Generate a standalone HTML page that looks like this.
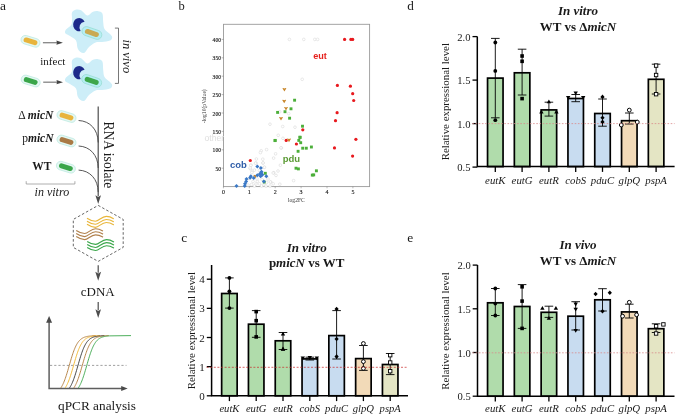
<!DOCTYPE html>
<html><head><meta charset="utf-8"><style>
html,body{margin:0;padding:0;background:#fff;}
body{width:685px;height:416px;overflow:hidden;font-family:"Liberation Serif",serif;}
svg{display:block;will-change:transform;}
</style></head><body>
<svg width="685" height="416" viewBox="0 0 685 416">
<rect width="685" height="416" fill="#fff"/>
<text x="0.1" y="9.8" font-size="13.5" text-anchor="start" font-weight="normal" font-style="normal" fill="#1a1a1a" font-family="Liberation Serif" >a</text>
<path d="M72.00,12.50 C72.58,11.13 74.00,10.17 75.50,9.80 C77.00,9.43 79.02,9.35 81.00,10.30 C82.98,11.25 85.40,15.25 87.40,15.50 C89.40,15.75 91.20,12.52 93.00,11.80 C94.80,11.08 96.63,10.92 98.20,11.20 C99.77,11.48 101.57,11.70 102.40,13.50 C103.23,15.30 102.85,19.42 103.20,22.00 C103.55,24.58 103.37,27.00 104.50,29.00 C105.63,31.00 108.72,32.63 110.00,34.00 C111.28,35.37 112.20,36.10 112.20,37.20 C112.20,38.30 111.70,39.80 110.00,40.60 C108.30,41.40 104.40,41.68 102.00,42.00 C99.60,42.32 97.77,41.67 95.60,42.50 C93.43,43.33 90.85,45.30 89.00,47.00 C87.15,48.70 85.92,51.87 84.50,52.70 C83.08,53.53 81.67,52.78 80.50,52.00 C79.33,51.22 78.25,49.92 77.50,48.00 C76.75,46.08 77.25,42.50 76.00,40.50 C74.75,38.50 71.78,37.22 70.00,36.00 C68.22,34.78 65.97,34.28 65.30,33.20 C64.63,32.12 64.97,30.95 66.00,29.50 C67.03,28.05 70.50,26.42 71.50,24.50 C72.50,22.58 71.92,20.00 72.00,18.00 C72.08,16.00 71.42,13.87 72.00,12.50 Z" fill="#cdeef8"/>
<path d="M80.64,31.11 A6.1,6.6 0 1 1 84.61,21.64 A5.9,5.9 0 0 0 80.64,31.11 Z" fill="#1d2a8a"/>
<path d="M72.00,60.50 C72.58,59.13 74.00,58.17 75.50,57.80 C77.00,57.43 79.02,57.35 81.00,58.30 C82.98,59.25 85.40,63.25 87.40,63.50 C89.40,63.75 91.20,60.52 93.00,59.80 C94.80,59.08 96.63,58.92 98.20,59.20 C99.77,59.48 101.57,59.70 102.40,61.50 C103.23,63.30 102.85,67.42 103.20,70.00 C103.55,72.58 103.37,75.00 104.50,77.00 C105.63,79.00 108.72,80.63 110.00,82.00 C111.28,83.37 112.20,84.10 112.20,85.20 C112.20,86.30 111.70,87.80 110.00,88.60 C108.30,89.40 104.40,89.68 102.00,90.00 C99.60,90.32 97.77,89.67 95.60,90.50 C93.43,91.33 90.85,93.30 89.00,95.00 C87.15,96.70 85.92,99.87 84.50,100.70 C83.08,101.53 81.67,100.78 80.50,100.00 C79.33,99.22 78.25,97.92 77.50,96.00 C76.75,94.08 77.25,90.50 76.00,88.50 C74.75,86.50 71.78,85.22 70.00,84.00 C68.22,82.78 65.97,82.28 65.30,81.20 C64.63,80.12 64.97,78.95 66.00,77.50 C67.03,76.05 70.50,74.42 71.50,72.50 C72.50,70.58 71.92,68.00 72.00,66.00 C72.08,64.00 71.42,61.87 72.00,60.50 Z" fill="#cdeef8"/>
<path d="M80.64,79.11 A6.1,6.6 0 1 1 84.61,69.64 A5.9,5.9 0 0 0 80.64,79.11 Z" fill="#1d2a8a"/>
<g transform="translate(91.9,33.0) rotate(19)"><rect x="-10.25" y="-4.5" width="20.5" height="9" rx="4.5" fill="#b6eef3" stroke="#8fd9cc" stroke-width="0.6"/><rect x="-7.25" y="-2.5" width="14.5" height="5" rx="2.5" fill="#c9aa52"/></g>
<g transform="translate(91.7,80.9) rotate(19)"><rect x="-10.25" y="-4.5" width="20.5" height="9" rx="4.5" fill="#b6eef3" stroke="#8fd9cc" stroke-width="0.6"/><rect x="-7.25" y="-2.5" width="14.5" height="5" rx="2.5" fill="#3ea64a"/></g>
<g transform="translate(30.5,41.3) rotate(17)"><rect x="-9.75" y="-4.3" width="19.5" height="8.6" rx="4.3" fill="#e4f7f3" stroke="#b3e6dc" stroke-width="0.6"/><rect x="-7.1" y="-2.5" width="14.2" height="5.0" rx="2.5" fill="#e8b43c"/></g>
<g transform="translate(30.7,81) rotate(17)"><rect x="-9.75" y="-4.3" width="19.5" height="8.6" rx="4.3" fill="#e4f7f3" stroke="#b3e6dc" stroke-width="0.6"/><rect x="-7.1" y="-2.5" width="14.2" height="5.0" rx="2.5" fill="#3aa64a"/></g>
<line x1="42.9" y1="42.7" x2="57.4" y2="42.7" stroke="#858585" stroke-width="1.3"/>
<path d="M56.4,40.6 L56.92,42.7 L56.4,44.800000000000004 L62.9,42.7 Z" fill="#444"/>
<line x1="43.2" y1="82.2" x2="57.5" y2="82.2" stroke="#858585" stroke-width="1.3"/>
<path d="M56.5,80.10000000000001 L57.019999999999996,82.2 L56.5,84.3 L63,82.2 Z" fill="#444"/>
<text x="40.3" y="64.9" font-size="11" text-anchor="start" font-weight="normal" font-style="normal" fill="#1a1a1a" font-family="Liberation Serif" >infect</text>
<path d="M114.9,28.1 H118.5 V83.4 H114.9" fill="none" stroke="#555" stroke-width="0.8"/>
<text x="0" y="0" font-size="12.5" text-anchor="middle" font-weight="normal" font-style="italic" fill="#1a1a1a" font-family="Liberation Serif" transform="translate(123.0,56.3) rotate(90)">in vivo</text>
<text x="18.2" y="118.9" font-size="11.5" fill="#1a1a1a" font-family="Liberation Serif">Δ <tspan font-weight="bold" font-style="italic">micN</tspan></text>
<text x="22.2" y="142.3" font-size="11.5" fill="#1a1a1a" font-family="Liberation Serif">p<tspan font-weight="bold" font-style="italic">micN</tspan></text>
<text x="32.2" y="170.4" font-size="11.5" text-anchor="start" font-weight="bold" font-style="normal" fill="#1a1a1a" font-family="Liberation Serif" >WT</text>
<g transform="translate(66.5,116.5) rotate(17)"><rect x="-9.75" y="-4.3" width="19.5" height="8.6" rx="4.3" fill="#e4f7f3" stroke="#b3e6dc" stroke-width="0.6"/><rect x="-7.1" y="-2.5" width="14.2" height="5.0" rx="2.5" fill="#e8b43c"/></g>
<g transform="translate(66.5,141) rotate(17)"><rect x="-9.75" y="-4.3" width="19.5" height="8.6" rx="4.3" fill="#e4f7f3" stroke="#b3e6dc" stroke-width="0.6"/><rect x="-7.1" y="-2.5" width="14.2" height="5.0" rx="2.5" fill="#a97a45"/></g>
<g transform="translate(65.9,167.2) rotate(17)"><rect x="-9.75" y="-4.3" width="19.5" height="8.6" rx="4.3" fill="#e4f7f3" stroke="#b3e6dc" stroke-width="0.6"/><rect x="-7.1" y="-2.5" width="14.2" height="5.0" rx="2.5" fill="#3aa64a"/></g>
<path d="M26.2,181.2 V184 H74.9 V181.2" fill="none" stroke="#999" stroke-width="0.8"/>
<text x="34.6" y="196.2" font-size="12" text-anchor="start" font-weight="normal" font-style="italic" fill="#1a1a1a" font-family="Liberation Serif" >in vitro</text>
<line x1="98.2" y1="106.6" x2="98.2" y2="196.20000000000002" stroke="#4d4d4d" stroke-width="1.2"/>
<path d="M95.4,195.20000000000002 L98.2,196.94 L101.0,195.20000000000002 L98.2,203.9 Z" fill="#4d4d4d"/>
<path d="M78.6,120.5 C90,121.0 98,129.5 98.2,142.5" fill="none" stroke="#444" stroke-width="0.9"/>
<path d="M78.6,146 C90,146.5 98,155 98.2,168" fill="none" stroke="#444" stroke-width="0.9"/>
<path d="M78.6,170.1 C90,170.6 98,179.1 98.2,192.1" fill="none" stroke="#444" stroke-width="0.9"/>
<text x="0" y="0" font-size="13.6" text-anchor="middle" font-weight="normal" font-style="normal" fill="#1a1a1a" font-family="Liberation Serif" transform="translate(103.8,154.9) rotate(90)">RNA isolate</text>
<path d="M98.2,205.4 L123.2,219.4 L123.2,247.4 L98.2,261.4 L73.3,247.4 L73.3,219.4 Z" fill="none" stroke="#555" stroke-width="0.9" stroke-dasharray="2.6,2"/>
<path d="M87,218.2 C90,220.2 92.5,221.2 95.4,221.2 C99,221.2 101.5,216.39999999999998 106.3,216.39999999999998 C110,216.39999999999998 112,217.7 113.8,218.79999999999998" fill="none" stroke="#e9b63a" stroke-width="1.15"/>
<path d="M87,221.25 C90,223.25 92.5,224.25 95.4,224.25 C99,224.25 101.5,219.45 106.3,219.45 C110,219.45 112,220.75 113.8,221.85" fill="none" stroke="#e9b63a" stroke-width="1.15"/>
<path d="M87,224.29999999999998 C90,226.29999999999998 92.5,227.29999999999998 95.4,227.29999999999998 C99,227.29999999999998 101.5,222.49999999999997 106.3,222.49999999999997 C110,222.49999999999997 112,223.79999999999998 113.8,224.89999999999998" fill="none" stroke="#e9b63a" stroke-width="1.15"/>
<path d="M76.2,230.5 C79.2,232.5 81.7,233.5 84.60000000000001,233.5 C88.2,233.5 90.7,228.7 95.5,228.7 C99.2,228.7 101.2,230.0 103.0,231.1" fill="none" stroke="#b0804c" stroke-width="1.15"/>
<path d="M76.2,233.55 C79.2,235.55 81.7,236.55 84.60000000000001,236.55 C88.2,236.55 90.7,231.75 95.5,231.75 C99.2,231.75 101.2,233.05 103.0,234.15" fill="none" stroke="#b0804c" stroke-width="1.15"/>
<path d="M76.2,236.6 C79.2,238.6 81.7,239.6 84.60000000000001,239.6 C88.2,239.6 90.7,234.79999999999998 95.5,234.79999999999998 C99.2,234.79999999999998 101.2,236.1 103.0,237.2" fill="none" stroke="#b0804c" stroke-width="1.15"/>
<path d="M87.2,241.4 C90.2,243.4 92.7,244.4 95.60000000000001,244.4 C99.2,244.4 101.7,239.6 106.5,239.6 C110.2,239.6 112.2,240.9 114.0,242.0" fill="none" stroke="#3aa64a" stroke-width="1.15"/>
<path d="M87.2,244.45000000000002 C90.2,246.45000000000002 92.7,247.45000000000002 95.60000000000001,247.45000000000002 C99.2,247.45000000000002 101.7,242.65 106.5,242.65 C110.2,242.65 112.2,243.95000000000002 114.0,245.05" fill="none" stroke="#3aa64a" stroke-width="1.15"/>
<path d="M87.2,247.5 C90.2,249.5 92.7,250.5 95.60000000000001,250.5 C99.2,250.5 101.7,245.7 106.5,245.7 C110.2,245.7 112.2,247.0 114.0,248.1" fill="none" stroke="#3aa64a" stroke-width="1.15"/>
<line x1="98.2" y1="265.2" x2="98.2" y2="272.8" stroke="#4d4d4d" stroke-width="1.2"/>
<path d="M95.3,271.8 L98.2,273.6 L101.10000000000001,271.8 L98.2,280.8 Z" fill="#4d4d4d"/>
<text x="80.8" y="295.8" font-size="13" text-anchor="start" font-weight="normal" font-style="normal" fill="#1a1a1a" font-family="Liberation Serif" >cDNA</text>
<line x1="98.2" y1="302.1" x2="98.2" y2="310.3" stroke="#4d4d4d" stroke-width="1.2"/>
<path d="M95.4,309.3 L98.2,311.04 L101.0,309.3 L98.2,318 Z" fill="#4d4d4d"/>
<path d="M49.1,321 V388.5 H123" fill="none" stroke="#5e5e5e" stroke-width="1.5"/>
<path d="M46.1,322.8 L49.1,316 L52.1,322.8 Z" fill="#4a4a4a"/>
<path d="M121.2,385.9 L127.7,388.5 L121.2,391.1 Z" fill="#4a4a4a"/>
<line x1="50" y1="365.4" x2="126.5" y2="365.4" stroke="#888" stroke-width="0.8" stroke-dasharray="2.2,2"/>
<path d="M60.80,387.96 L61.30,387.19 L61.80,386.35 L62.30,385.45 L62.80,384.46 L63.30,383.40 L63.80,382.26 L64.30,381.04 L64.80,379.74 L65.30,378.36 L65.80,376.91 L66.30,375.40 L66.80,373.82 L67.30,372.18 L67.80,370.50 L68.30,368.79 L68.80,367.05 L69.30,365.30 L69.80,363.55 L70.30,361.81 L70.80,360.10 L71.30,358.42 L71.80,356.78 L72.30,355.20 L72.80,353.69 L73.30,352.24 L73.80,350.86 L74.30,349.56 L74.80,348.34 L75.30,347.20 L75.80,346.14 L76.30,345.15 L76.80,344.25 L77.30,343.41 L77.80,342.64 L78.30,341.94 L78.80,341.30 L79.30,340.72 L79.80,340.20 L80.30,339.72 L80.80,339.29 L81.30,338.90 L81.80,338.55 L82.30,338.24 L82.80,337.96 L83.30,337.70 L83.80,337.48 L84.30,337.27 L84.80,337.09 L85.30,336.93 L85.80,336.79 L86.30,336.66 L86.80,336.54 L87.30,336.44 L87.80,336.35 L88.30,336.26 L88.80,336.19 L89.30,336.12 L89.80,336.07 L90.30,336.02 L90.80,335.97 L91.30,335.93 L91.80,335.89 L95.80,335.60" fill="none" stroke="#b07a3a" stroke-width="0.9"/>
<path d="M65.10,387.96 L65.60,387.19 L66.10,386.35 L66.60,385.45 L67.10,384.46 L67.60,383.40 L68.10,382.26 L68.60,381.04 L69.10,379.74 L69.60,378.36 L70.10,376.91 L70.60,375.40 L71.10,373.82 L71.60,372.18 L72.10,370.50 L72.60,368.79 L73.10,367.05 L73.60,365.30 L74.10,363.55 L74.60,361.81 L75.10,360.10 L75.60,358.42 L76.10,356.78 L76.60,355.20 L77.10,353.69 L77.60,352.24 L78.10,350.86 L78.60,349.56 L79.10,348.34 L79.60,347.20 L80.10,346.14 L80.60,345.15 L81.10,344.25 L81.60,343.41 L82.10,342.64 L82.60,341.94 L83.10,341.30 L83.60,340.72 L84.10,340.20 L84.60,339.72 L85.10,339.29 L85.60,338.90 L86.10,338.55 L86.60,338.24 L87.10,337.96 L87.60,337.70 L88.10,337.48 L88.60,337.27 L89.10,337.09 L89.60,336.93 L90.10,336.79 L90.60,336.66 L91.10,336.54 L91.60,336.44 L92.10,336.35 L92.60,336.26 L93.10,336.19 L93.60,336.12 L94.10,336.07 L94.60,336.02 L95.10,335.97 L95.60,335.93 L96.10,335.89 L100.10,335.60" fill="none" stroke="#f0b429" stroke-width="0.9"/>
<path d="M69.50,387.96 L70.00,387.19 L70.50,386.35 L71.00,385.45 L71.50,384.46 L72.00,383.40 L72.50,382.26 L73.00,381.04 L73.50,379.74 L74.00,378.36 L74.50,376.91 L75.00,375.40 L75.50,373.82 L76.00,372.18 L76.50,370.50 L77.00,368.79 L77.50,367.05 L78.00,365.30 L78.50,363.55 L79.00,361.81 L79.50,360.10 L80.00,358.42 L80.50,356.78 L81.00,355.20 L81.50,353.69 L82.00,352.24 L82.50,350.86 L83.00,349.56 L83.50,348.34 L84.00,347.20 L84.50,346.14 L85.00,345.15 L85.50,344.25 L86.00,343.41 L86.50,342.64 L87.00,341.94 L87.50,341.30 L88.00,340.72 L88.50,340.20 L89.00,339.72 L89.50,339.29 L90.00,338.90 L90.50,338.55 L91.00,338.24 L91.50,337.96 L92.00,337.70 L92.50,337.48 L93.00,337.27 L93.50,337.09 L94.00,336.93 L94.50,336.79 L95.00,336.66 L95.50,336.54 L96.00,336.44 L96.50,336.35 L97.00,336.26 L97.50,336.19 L98.00,336.12 L98.50,336.07 L99.00,336.02 L99.50,335.97 L100.00,335.93 L100.50,335.89 L104.50,335.60" fill="none" stroke="#333" stroke-width="0.9"/>
<path d="M73.80,387.96 L74.30,387.19 L74.80,386.35 L75.30,385.45 L75.80,384.46 L76.30,383.40 L76.80,382.26 L77.30,381.04 L77.80,379.74 L78.30,378.36 L78.80,376.91 L79.30,375.40 L79.80,373.82 L80.30,372.18 L80.80,370.50 L81.30,368.79 L81.80,367.05 L82.30,365.30 L82.80,363.55 L83.30,361.81 L83.80,360.10 L84.30,358.42 L84.80,356.78 L85.30,355.20 L85.80,353.69 L86.30,352.24 L86.80,350.86 L87.30,349.56 L87.80,348.34 L88.30,347.20 L88.80,346.14 L89.30,345.15 L89.80,344.25 L90.30,343.41 L90.80,342.64 L91.30,341.94 L91.80,341.30 L92.30,340.72 L92.80,340.20 L93.30,339.72 L93.80,339.29 L94.30,338.90 L94.80,338.55 L95.30,338.24 L95.80,337.96 L96.30,337.70 L96.80,337.48 L97.30,337.27 L97.80,337.09 L98.30,336.93 L98.80,336.79 L99.30,336.66 L99.80,336.54 L100.30,336.44 L100.80,336.35 L101.30,336.26 L101.80,336.19 L102.30,336.12 L102.80,336.07 L103.30,336.02 L103.80,335.97 L104.30,335.93 L104.80,335.89 L108.80,335.60" fill="none" stroke="#b07a3a" stroke-width="0.9"/>
<path d="M78.30,387.96 L78.80,387.19 L79.30,386.35 L79.80,385.45 L80.30,384.46 L80.80,383.40 L81.30,382.26 L81.80,381.04 L82.30,379.74 L82.80,378.36 L83.30,376.91 L83.80,375.40 L84.30,373.82 L84.80,372.18 L85.30,370.50 L85.80,368.79 L86.30,367.05 L86.80,365.30 L87.30,363.55 L87.80,361.81 L88.30,360.10 L88.80,358.42 L89.30,356.78 L89.80,355.20 L90.30,353.69 L90.80,352.24 L91.30,350.86 L91.80,349.56 L92.30,348.34 L92.80,347.20 L93.30,346.14 L93.80,345.15 L94.30,344.25 L94.80,343.41 L95.30,342.64 L95.80,341.94 L96.30,341.30 L96.80,340.72 L97.30,340.20 L97.80,339.72 L98.30,339.29 L98.80,338.90 L99.30,338.55 L99.80,338.24 L100.30,337.96 L100.80,337.70 L101.30,337.48 L101.80,337.27 L102.30,337.09 L102.80,336.93 L103.30,336.79 L103.80,336.66 L104.30,336.54 L104.80,336.44 L105.30,336.35 L105.80,336.26 L106.30,336.19 L106.80,336.12 L107.30,336.07 L107.80,336.02 L108.30,335.97 L108.80,335.93 L109.30,335.89 L131.00,335.60" fill="none" stroke="#3aa64a" stroke-width="0.9"/>
<text x="58" y="409.7" font-size="13.3" text-anchor="start" font-weight="normal" font-style="normal" fill="#1a1a1a" font-family="Liberation Serif" >qPCR analysis</text>
<text x="178.6" y="10.3" font-size="12.5" text-anchor="start" font-weight="normal" font-style="normal" fill="#1a1a1a" font-family="Liberation Serif" >b</text>
<rect x="223.5" y="24.3" width="146.1" height="162.3" fill="#fff" stroke="#9a9a9a" stroke-width="0.9"/>
<line x1="221.6" y1="168.20" x2="223.5" y2="168.20" stroke="#777" stroke-width="0.5"/>
<text x="221" y="170.79999999999998" font-size="5.6" text-anchor="end" font-weight="normal" font-style="normal" fill="#111" font-family="Liberation Serif" stroke="#111" stroke-width="0.12">50</text>
<line x1="221.6" y1="149.80" x2="223.5" y2="149.80" stroke="#777" stroke-width="0.5"/>
<text x="221" y="152.4" font-size="5.6" text-anchor="end" font-weight="normal" font-style="normal" fill="#111" font-family="Liberation Serif" stroke="#111" stroke-width="0.12">100</text>
<line x1="221.6" y1="131.40" x2="223.5" y2="131.40" stroke="#777" stroke-width="0.5"/>
<text x="221" y="134.0" font-size="5.6" text-anchor="end" font-weight="normal" font-style="normal" fill="#111" font-family="Liberation Serif" stroke="#111" stroke-width="0.12">150</text>
<line x1="221.6" y1="113.00" x2="223.5" y2="113.00" stroke="#777" stroke-width="0.5"/>
<text x="221" y="115.6" font-size="5.6" text-anchor="end" font-weight="normal" font-style="normal" fill="#111" font-family="Liberation Serif" stroke="#111" stroke-width="0.12">200</text>
<line x1="221.6" y1="94.60" x2="223.5" y2="94.60" stroke="#777" stroke-width="0.5"/>
<text x="221" y="97.19999999999999" font-size="5.6" text-anchor="end" font-weight="normal" font-style="normal" fill="#111" font-family="Liberation Serif" stroke="#111" stroke-width="0.12">250</text>
<line x1="221.6" y1="76.20" x2="223.5" y2="76.20" stroke="#777" stroke-width="0.5"/>
<text x="221" y="78.8" font-size="5.6" text-anchor="end" font-weight="normal" font-style="normal" fill="#111" font-family="Liberation Serif" stroke="#111" stroke-width="0.12">300</text>
<line x1="221.6" y1="57.80" x2="223.5" y2="57.80" stroke="#777" stroke-width="0.5"/>
<text x="221" y="60.399999999999984" font-size="5.6" text-anchor="end" font-weight="normal" font-style="normal" fill="#111" font-family="Liberation Serif" stroke="#111" stroke-width="0.12">350</text>
<line x1="221.6" y1="39.40" x2="223.5" y2="39.40" stroke="#777" stroke-width="0.5"/>
<text x="221" y="42.00000000000001" font-size="5.6" text-anchor="end" font-weight="normal" font-style="normal" fill="#111" font-family="Liberation Serif" stroke="#111" stroke-width="0.12">400</text>
<line x1="223.40" y1="186.6" x2="223.40" y2="188.3" stroke="#777" stroke-width="0.5"/>
<text x="223.4" y="194" font-size="6" text-anchor="middle" font-weight="normal" font-style="normal" fill="#111" font-family="Liberation Serif" stroke="#111" stroke-width="0.12">0</text>
<line x1="249.30" y1="186.6" x2="249.30" y2="188.3" stroke="#777" stroke-width="0.5"/>
<text x="249.3" y="194" font-size="6" text-anchor="middle" font-weight="normal" font-style="normal" fill="#111" font-family="Liberation Serif" stroke="#111" stroke-width="0.12">1</text>
<line x1="275.20" y1="186.6" x2="275.20" y2="188.3" stroke="#777" stroke-width="0.5"/>
<text x="275.2" y="194" font-size="6" text-anchor="middle" font-weight="normal" font-style="normal" fill="#111" font-family="Liberation Serif" stroke="#111" stroke-width="0.12">2</text>
<line x1="301.10" y1="186.6" x2="301.10" y2="188.3" stroke="#777" stroke-width="0.5"/>
<text x="301.1" y="194" font-size="6" text-anchor="middle" font-weight="normal" font-style="normal" fill="#111" font-family="Liberation Serif" stroke="#111" stroke-width="0.12">3</text>
<line x1="327.00" y1="186.6" x2="327.00" y2="188.3" stroke="#777" stroke-width="0.5"/>
<text x="327.0" y="194" font-size="6" text-anchor="middle" font-weight="normal" font-style="normal" fill="#111" font-family="Liberation Serif" stroke="#111" stroke-width="0.12">4</text>
<line x1="352.90" y1="186.6" x2="352.90" y2="188.3" stroke="#777" stroke-width="0.5"/>
<text x="352.9" y="194" font-size="6" text-anchor="middle" font-weight="normal" font-style="normal" fill="#111" font-family="Liberation Serif" stroke="#111" stroke-width="0.12">5</text>
<text x="296.4" y="201.6" font-size="5.6" text-anchor="middle" font-weight="normal" font-style="normal" fill="#333" font-family="Liberation Serif" >log2FC</text>
<text x="0" y="0" font-size="5.6" text-anchor="middle" font-weight="normal" font-style="normal" fill="#333" font-family="Liberation Serif" transform="translate(206.2,106.2) rotate(-90)">-log10(pValue)</text>
<circle cx="289.4" cy="39.4" r="1.35" fill="#fff" stroke="#d2d2d2" stroke-width="0.5"/>
<circle cx="303.8" cy="39.4" r="1.35" fill="#fff" stroke="#d2d2d2" stroke-width="0.5"/>
<circle cx="314.8" cy="39.4" r="1.35" fill="#fff" stroke="#d2d2d2" stroke-width="0.5"/>
<circle cx="317.6" cy="39.4" r="1.35" fill="#fff" stroke="#d2d2d2" stroke-width="0.5"/>
<circle cx="302.2" cy="79.3" r="1.35" fill="#fff" stroke="#d2d2d2" stroke-width="0.5"/>
<circle cx="270" cy="124.2" r="1.35" fill="#fff" stroke="#d2d2d2" stroke-width="0.5"/>
<circle cx="282.7" cy="126.5" r="1.35" fill="#fff" stroke="#d2d2d2" stroke-width="0.5"/>
<circle cx="295" cy="127.2" r="1.35" fill="#fff" stroke="#d2d2d2" stroke-width="0.5"/>
<circle cx="278.2" cy="135.3" r="1.35" fill="#fff" stroke="#d2d2d2" stroke-width="0.5"/>
<circle cx="283" cy="138.3" r="1.35" fill="#fff" stroke="#d2d2d2" stroke-width="0.5"/>
<circle cx="279.7" cy="111.8" r="1.35" fill="#fff" stroke="#d2d2d2" stroke-width="0.5"/>
<circle cx="288.7" cy="113.6" r="1.35" fill="#fff" stroke="#d2d2d2" stroke-width="0.5"/>
<circle cx="281.4" cy="148" r="1.35" fill="#fff" stroke="#d2d2d2" stroke-width="0.5"/>
<circle cx="275.6" cy="153.8" r="1.35" fill="#fff" stroke="#d2d2d2" stroke-width="0.5"/>
<circle cx="273.6" cy="158.1" r="1.35" fill="#fff" stroke="#d2d2d2" stroke-width="0.5"/>
<circle cx="280.4" cy="165.2" r="1.35" fill="#fff" stroke="#d2d2d2" stroke-width="0.5"/>
<circle cx="278" cy="171" r="1.35" fill="#fff" stroke="#d2d2d2" stroke-width="0.5"/>
<circle cx="273.8" cy="172.7" r="1.35" fill="#fff" stroke="#d2d2d2" stroke-width="0.5"/>
<circle cx="276" cy="175.4" r="1.35" fill="#fff" stroke="#d2d2d2" stroke-width="0.5"/>
<circle cx="293.6" cy="180.6" r="1.35" fill="#fff" stroke="#d2d2d2" stroke-width="0.5"/>
<circle cx="279.8" cy="184.2" r="1.35" fill="#fff" stroke="#d2d2d2" stroke-width="0.5"/>
<circle cx="273.2" cy="183.8" r="1.35" fill="#fff" stroke="#d2d2d2" stroke-width="0.5"/>
<circle cx="270.8" cy="182" r="1.35" fill="#fff" stroke="#d2d2d2" stroke-width="0.5"/>
<circle cx="266.6" cy="149.6" r="1.35" fill="#fff" stroke="#d2d2d2" stroke-width="0.5"/>
<circle cx="261.2" cy="150.8" r="1.35" fill="#fff" stroke="#d2d2d2" stroke-width="0.5"/>
<circle cx="260.4" cy="152.6" r="1.35" fill="#fff" stroke="#d2d2d2" stroke-width="0.5"/>
<circle cx="281" cy="147.8" r="1.35" fill="#fff" stroke="#d2d2d2" stroke-width="0.5"/>
<circle cx="256.4" cy="159" r="1.35" fill="#fff" stroke="#d2d2d2" stroke-width="0.5"/>
<circle cx="262.8" cy="159.2" r="1.35" fill="#fff" stroke="#d2d2d2" stroke-width="0.5"/>
<circle cx="263" cy="163" r="1.35" fill="#fff" stroke="#d2d2d2" stroke-width="0.5"/>
<circle cx="256" cy="163" r="1.35" fill="#fff" stroke="#d2d2d2" stroke-width="0.5"/>
<circle cx="251" cy="165.2" r="1.35" fill="#fff" stroke="#d2d2d2" stroke-width="0.5"/>
<circle cx="250.4" cy="168.8" r="1.35" fill="#fff" stroke="#d2d2d2" stroke-width="0.5"/>
<circle cx="264.2" cy="167.4" r="1.35" fill="#fff" stroke="#d2d2d2" stroke-width="0.5"/>
<circle cx="252.2" cy="171.2" r="1.35" fill="#fff" stroke="#d2d2d2" stroke-width="0.5"/>
<circle cx="259.4" cy="170.6" r="1.35" fill="#fff" stroke="#d2d2d2" stroke-width="0.5"/>
<circle cx="255.5" cy="163.2" r="1.35" fill="#fff" stroke="#d2d2d2" stroke-width="0.5"/>
<circle cx="250.8" cy="165.4" r="1.35" fill="#fff" stroke="#d2d2d2" stroke-width="0.5"/>
<circle cx="250.1" cy="167.9" r="1.35" fill="#fff" stroke="#d2d2d2" stroke-width="0.5"/>
<circle cx="254.4" cy="170.1" r="1.35" fill="#fff" stroke="#d2d2d2" stroke-width="0.5"/>
<circle cx="264.5" cy="167.2" r="1.35" fill="#fff" stroke="#d2d2d2" stroke-width="0.5"/>
<circle cx="263.1" cy="162.9" r="1.35" fill="#fff" stroke="#d2d2d2" stroke-width="0.5"/>
<circle cx="251.9" cy="172.6" r="1.35" fill="#fff" stroke="#d2d2d2" stroke-width="0.5"/>
<circle cx="257.3" cy="181.3" r="1.35" fill="#fff" stroke="#d2d2d2" stroke-width="0.5"/>
<circle cx="259.5" cy="183.8" r="1.35" fill="#fff" stroke="#d2d2d2" stroke-width="0.5"/>
<circle cx="261.6" cy="186" r="1.35" fill="#fff" stroke="#d2d2d2" stroke-width="0.5"/>
<circle cx="254.4" cy="186" r="1.35" fill="#fff" stroke="#d2d2d2" stroke-width="0.5"/>
<circle cx="251.5" cy="184.5" r="1.35" fill="#fff" stroke="#d2d2d2" stroke-width="0.5"/>
<circle cx="270.3" cy="182" r="1.35" fill="#fff" stroke="#d2d2d2" stroke-width="0.5"/>
<circle cx="273.2" cy="173" r="1.35" fill="#fff" stroke="#d2d2d2" stroke-width="0.5"/>
<circle cx="249" cy="178.5" r="1.35" fill="#fff" stroke="#d2d2d2" stroke-width="0.5"/>
<circle cx="253" cy="181.5" r="1.35" fill="#fff" stroke="#d2d2d2" stroke-width="0.5"/>
<circle cx="256" cy="184" r="1.35" fill="#fff" stroke="#d2d2d2" stroke-width="0.5"/>
<circle cx="264" cy="185" r="1.35" fill="#fff" stroke="#d2d2d2" stroke-width="0.5"/>
<circle cx="266.5" cy="182.5" r="1.35" fill="#fff" stroke="#d2d2d2" stroke-width="0.5"/>
<circle cx="268" cy="179" r="1.35" fill="#fff" stroke="#d2d2d2" stroke-width="0.5"/>
<circle cx="257" cy="178.8" r="1.35" fill="#fff" stroke="#d2d2d2" stroke-width="0.5"/>
<circle cx="262" cy="179.5" r="1.35" fill="#fff" stroke="#d2d2d2" stroke-width="0.5"/>
<circle cx="248" cy="185" r="1.35" fill="#fff" stroke="#d2d2d2" stroke-width="0.5"/>
<circle cx="266" cy="186" r="1.35" fill="#fff" stroke="#d2d2d2" stroke-width="0.5"/>
<circle cx="270" cy="186" r="1.35" fill="#fff" stroke="#d2d2d2" stroke-width="0.5"/>
<circle cx="344.6" cy="39.4" r="1.6" fill="#e8191e"/>
<circle cx="350.9" cy="39.4" r="1.6" fill="#e8191e"/>
<circle cx="352.7" cy="39.4" r="1.6" fill="#e8191e"/>
<circle cx="337.4" cy="85.4" r="1.6" fill="#e8191e"/>
<circle cx="350.4" cy="86.2" r="1.6" fill="#e8191e"/>
<circle cx="352.7" cy="93.7" r="1.6" fill="#e8191e"/>
<circle cx="353.7" cy="100.5" r="1.6" fill="#e8191e"/>
<circle cx="337.1" cy="112.7" r="1.6" fill="#e8191e"/>
<circle cx="335.5" cy="120.7" r="1.6" fill="#e8191e"/>
<circle cx="355.9" cy="139.3" r="1.6" fill="#e8191e"/>
<circle cx="302.8" cy="129.8" r="1.6" fill="#e8191e"/>
<circle cx="286.2" cy="140.4" r="1.6" fill="#e8191e"/>
<circle cx="296.4" cy="144" r="1.6" fill="#e8191e"/>
<circle cx="334.5" cy="147.9" r="1.6" fill="#e8191e"/>
<circle cx="352.6" cy="156.1" r="1.6" fill="#e8191e"/>
<circle cx="250.3" cy="160.5" r="1.6" fill="#e8191e"/>
<rect x="293.15000000000003" y="98.75" width="2.9" height="2.9" fill="#4caf3a"/>
<rect x="289.55" y="107.35" width="2.9" height="2.9" fill="#4caf3a"/>
<rect x="283.55" y="110.25" width="2.9" height="2.9" fill="#4caf3a"/>
<rect x="276.15000000000003" y="110.95" width="2.9" height="2.9" fill="#4caf3a"/>
<rect x="288.15000000000003" y="116.75" width="2.9" height="2.9" fill="#4caf3a"/>
<rect x="301.05" y="124.75" width="2.9" height="2.9" fill="#4caf3a"/>
<rect x="298.65000000000003" y="135.95000000000002" width="2.9" height="2.9" fill="#4caf3a"/>
<rect x="273.75" y="138.95000000000002" width="2.9" height="2.9" fill="#4caf3a"/>
<rect x="298.45" y="135.75" width="2.9" height="2.9" fill="#4caf3a"/>
<rect x="297.35" y="138.95000000000002" width="2.9" height="2.9" fill="#4caf3a"/>
<rect x="299.25" y="141.25" width="2.9" height="2.9" fill="#4caf3a"/>
<rect x="301.25" y="146.75" width="2.9" height="2.9" fill="#4caf3a"/>
<rect x="304.85" y="146.75" width="2.9" height="2.9" fill="#4caf3a"/>
<rect x="309.95" y="145.55" width="2.9" height="2.9" fill="#4caf3a"/>
<rect x="296.65000000000003" y="149.85000000000002" width="2.9" height="2.9" fill="#4caf3a"/>
<rect x="294.55" y="166.75" width="2.9" height="2.9" fill="#4caf3a"/>
<rect x="296.95" y="167.45000000000002" width="2.9" height="2.9" fill="#4caf3a"/>
<rect x="314.95" y="169.35000000000002" width="2.9" height="2.9" fill="#4caf3a"/>
<rect x="310.85" y="173.65" width="2.9" height="2.9" fill="#4caf3a"/>
<rect x="312.25" y="173.45000000000002" width="2.9" height="2.9" fill="#4caf3a"/>
<rect x="263.85" y="171.85000000000002" width="2.9" height="2.9" fill="#4caf3a"/>
<rect x="262.75" y="180.55" width="2.9" height="2.9" fill="#4caf3a"/>
<rect x="273.55" y="139.15" width="2.9" height="2.9" fill="#4caf3a"/>
<path d="M282.4,88.2 Q283.4,87.6 284.4,88.6 Q285.4,87.6 286.4,88.2 L284.4,91.6 Z" fill="#c8862a"/>
<path d="M282.2,99.9 Q283.2,99.3 284.2,100.3 Q285.2,99.3 286.2,99.9 L284.2,103.3 Z" fill="#c8862a"/>
<path d="M284,107.10000000000001 Q285,106.5 286,107.5 Q287,106.5 288,107.10000000000001 L286,110.5 Z" fill="#c8862a"/>
<path d="M279,117.2 Q280,116.6 281,117.6 Q282,116.6 283,117.2 L281,120.6 Z" fill="#c8862a"/>
<path d="M287,138.8 Q288,138.20000000000002 289,139.20000000000002 Q290,138.20000000000002 291,138.8 L289,142.20000000000002 Z" fill="#c8862a"/>
<path d="M253.3,174.9 Q254.3,174.3 255.3,175.3 Q256.3,174.3 257.3,174.9 L255.3,178.3 Z" fill="#c8862a"/>
<path d="M236.5,184.0 L238.5,186 L236.5,188.0 L234.5,186 Z" fill="#3a78c6"/>
<path d="M244.7,184.0 L246.7,186 L244.7,188.0 L242.7,186 Z" fill="#3a78c6"/>
<path d="M245,181.8 L247.0,183.8 L245,185.8 L243.0,183.8 Z" fill="#3a78c6"/>
<path d="M246.1,179.6 L248.1,181.6 L246.1,183.6 L244.1,181.6 Z" fill="#3a78c6"/>
<path d="M246.5,177.1 L248.5,179.1 L246.5,181.1 L244.5,179.1 Z" fill="#3a78c6"/>
<path d="M250.1,175.7 L252.1,177.7 L250.1,179.7 L248.1,177.7 Z" fill="#3a78c6"/>
<path d="M250.8,174.2 L252.8,176.2 L250.8,178.2 L248.8,176.2 Z" fill="#3a78c6"/>
<path d="M253.7,176.0 L255.7,178 L253.7,180.0 L251.7,178 Z" fill="#3a78c6"/>
<path d="M257.3,164.5 L259.3,166.5 L257.3,168.5 L255.3,166.5 Z" fill="#3a78c6"/>
<path d="M260.9,165.9 L262.9,167.9 L260.9,169.9 L258.9,167.9 Z" fill="#3a78c6"/>
<path d="M261.3,171.0 L263.3,173 L261.3,175.0 L259.3,173 Z" fill="#3a78c6"/>
<path d="M260.6,174.2 L262.6,176.2 L260.6,178.2 L258.6,176.2 Z" fill="#3a78c6"/>
<path d="M262.4,172.8 L264.4,174.8 L262.4,176.8 L260.4,174.8 Z" fill="#3a78c6"/>
<path d="M266.3,174.2 L268.3,176.2 L266.3,178.2 L264.3,176.2 Z" fill="#3a78c6"/>
<path d="M257.3,173.2 L259.3,175.2 L257.3,177.2 L255.3,175.2 Z" fill="#3a78c6"/>
<path d="M263.9,179.5 L265.9,181.5 L263.9,183.5 L261.9,181.5 Z" fill="#3a78c6"/>
<path d="M261.5,169.8 L263.5,171.8 L261.5,173.8 L259.5,171.8 Z" fill="#3a78c6"/>
<path d="M259.8,172.0 L261.8,174 L259.8,176.0 L257.8,174 Z" fill="#3a78c6"/>
<text x="204.5" y="140.9" font-size="8.6" text-anchor="start" font-weight="normal" font-style="normal" fill="#dedede" font-family="Liberation Sans" >other</text>
<text x="313.2" y="58.8" font-size="9.1" text-anchor="start" font-weight="bold" font-style="normal" fill="#e6221e" font-family="Liberation Sans" >eut</text>
<text x="282.7" y="161.7" font-size="9.5" text-anchor="start" font-weight="bold" font-style="normal" fill="#5a9a34" font-family="Liberation Sans" >pdu</text>
<text x="230" y="168" font-size="9.5" text-anchor="start" font-weight="bold" font-style="normal" fill="#2f5da8" font-family="Liberation Sans" >cob</text>
<text x="181.3" y="241.6" font-size="13.5" text-anchor="start" font-weight="normal" font-style="normal" fill="#1a1a1a" font-family="Liberation Serif" >c</text>
<rect x="221.65" y="293.50" width="15.5" height="102.30" fill="#b0dcab" stroke="#000" stroke-width="1.7"/>
<rect x="248.45" y="324.20" width="15.5" height="71.60" fill="#b0dcab" stroke="#000" stroke-width="1.7"/>
<rect x="275.25" y="340.80" width="15.5" height="55.00" fill="#b0dcab" stroke="#000" stroke-width="1.7"/>
<rect x="302.05" y="358.90" width="15.5" height="36.90" fill="#c8dcf0" stroke="#000" stroke-width="1.7"/>
<rect x="328.85" y="335.60" width="15.5" height="60.20" fill="#c8dcf0" stroke="#000" stroke-width="1.7"/>
<rect x="355.65" y="358.60" width="15.5" height="37.20" fill="#f2dab8" stroke="#000" stroke-width="1.7"/>
<rect x="382.45" y="364.50" width="15.5" height="31.30" fill="#e4e5c4" stroke="#000" stroke-width="1.7"/>
<line x1="229.40" y1="277.9" x2="229.40" y2="308.1" stroke="#000" stroke-width="0.9"/>
<line x1="225.10" y1="277.9" x2="233.70" y2="277.9" stroke="#000" stroke-width="0.9"/>
<line x1="225.10" y1="308.1" x2="233.70" y2="308.1" stroke="#000" stroke-width="0.9"/>
<circle cx="229.4" cy="277.9" r="1.9" fill="#000"/>
<circle cx="229.4" cy="291.3" r="1.9" fill="#000"/>
<circle cx="229.4" cy="308.1" r="1.9" fill="#000"/>
<line x1="229.40" y1="395.8" x2="229.40" y2="401.1" stroke="#000" stroke-width="1.3"/>
<text x="229.40" y="411.8" font-size="10.6" text-anchor="middle" font-weight="normal" font-style="italic" fill="#1a1a1a" font-family="Liberation Serif" >eutK</text>
<line x1="256.20" y1="310.6" x2="256.20" y2="337.3" stroke="#000" stroke-width="0.9"/>
<line x1="251.90" y1="310.6" x2="260.50" y2="310.6" stroke="#000" stroke-width="0.9"/>
<line x1="251.90" y1="337.3" x2="260.50" y2="337.3" stroke="#000" stroke-width="0.9"/>
<rect x="254.39999999999998" y="309.8" width="3.6" height="3.6" fill="#000"/>
<rect x="254.39999999999998" y="318.9" width="3.6" height="3.6" fill="#000"/>
<rect x="254.39999999999998" y="335.09999999999997" width="3.6" height="3.6" fill="#000"/>
<line x1="256.20" y1="395.8" x2="256.20" y2="401.1" stroke="#000" stroke-width="1.3"/>
<text x="256.20" y="411.8" font-size="10.6" text-anchor="middle" font-weight="normal" font-style="italic" fill="#1a1a1a" font-family="Liberation Serif" >eutG</text>
<line x1="283.00" y1="332.5" x2="283.00" y2="349.5" stroke="#000" stroke-width="0.9"/>
<line x1="278.70" y1="332.5" x2="287.30" y2="332.5" stroke="#000" stroke-width="0.9"/>
<line x1="278.70" y1="349.5" x2="287.30" y2="349.5" stroke="#000" stroke-width="0.9"/>
<path d="M283.0,331.8 L285.2,335.6 L280.8,335.6 Z" fill="#000"/>
<path d="M283.0,346.6 L285.2,350.40000000000003 L280.8,350.40000000000003 Z" fill="#000"/>
<path d="M283.0,347.0 L285.2,350.8 L280.8,350.8 Z" fill="#000"/>
<line x1="283.00" y1="395.8" x2="283.00" y2="401.1" stroke="#000" stroke-width="1.3"/>
<text x="283.00" y="411.8" font-size="10.6" text-anchor="middle" font-weight="normal" font-style="italic" fill="#1a1a1a" font-family="Liberation Serif" >eutR</text>
<line x1="309.80" y1="357.2" x2="309.80" y2="360" stroke="#000" stroke-width="0.9"/>
<line x1="305.50" y1="357.2" x2="314.10" y2="357.2" stroke="#000" stroke-width="0.9"/>
<line x1="305.50" y1="360" x2="314.10" y2="360" stroke="#000" stroke-width="0.9"/>
<path d="M302.8,360.2 L305.0,356.4 L300.6,356.4 Z" fill="#000"/>
<path d="M309.8,359.7 L312.0,355.9 L307.6,355.9 Z" fill="#000"/>
<path d="M316.8,360.2 L319.0,356.4 L314.6,356.4 Z" fill="#000"/>
<line x1="309.80" y1="395.8" x2="309.80" y2="401.1" stroke="#000" stroke-width="1.3"/>
<text x="309.80" y="411.8" font-size="10.6" text-anchor="middle" font-weight="normal" font-style="italic" fill="#1a1a1a" font-family="Liberation Serif" >cobS</text>
<line x1="336.60" y1="310.6" x2="336.60" y2="359" stroke="#000" stroke-width="0.9"/>
<line x1="332.30" y1="310.6" x2="340.90" y2="310.6" stroke="#000" stroke-width="0.9"/>
<line x1="332.30" y1="359" x2="340.90" y2="359" stroke="#000" stroke-width="0.9"/>
<path d="M336.6,306.7 L338.70000000000005,309 L336.6,311.3 L334.5,309 Z" fill="#000"/>
<path d="M336.6,336.7 L338.70000000000005,339 L336.6,341.3 L334.5,339 Z" fill="#000"/>
<path d="M336.6,354.3 L338.70000000000005,356.6 L336.6,358.90000000000003 L334.5,356.6 Z" fill="#000"/>
<line x1="336.60" y1="395.8" x2="336.60" y2="401.1" stroke="#000" stroke-width="1.3"/>
<text x="336.60" y="411.8" font-size="10.6" text-anchor="middle" font-weight="normal" font-style="italic" fill="#1a1a1a" font-family="Liberation Serif" >pduC</text>
<line x1="363.40" y1="345.5" x2="363.40" y2="370.4" stroke="#000" stroke-width="0.9"/>
<line x1="359.10" y1="345.5" x2="367.70" y2="345.5" stroke="#000" stroke-width="0.9"/>
<line x1="359.10" y1="370.4" x2="367.70" y2="370.4" stroke="#000" stroke-width="0.9"/>
<circle cx="363.4" cy="343.5" r="1.9" fill="#fff" stroke="#000" stroke-width="1.0"/>
<circle cx="363.4" cy="361.6" r="1.9" fill="#fff" stroke="#000" stroke-width="1.0"/>
<circle cx="363.4" cy="368.4" r="1.9" fill="#fff" stroke="#000" stroke-width="1.0"/>
<line x1="363.40" y1="395.8" x2="363.40" y2="401.1" stroke="#000" stroke-width="1.3"/>
<text x="363.40" y="411.8" font-size="10.6" text-anchor="middle" font-weight="normal" font-style="italic" fill="#1a1a1a" font-family="Liberation Serif" >glpQ</text>
<line x1="390.20" y1="353.5" x2="390.20" y2="374.6" stroke="#000" stroke-width="0.9"/>
<line x1="385.90" y1="353.5" x2="394.50" y2="353.5" stroke="#000" stroke-width="0.9"/>
<line x1="385.90" y1="374.6" x2="394.50" y2="374.6" stroke="#000" stroke-width="0.9"/>
<rect x="388.50000000000006" y="353.5" width="3.4" height="3.4" fill="#fff" stroke="#000" stroke-width="0.9"/>
<rect x="388.50000000000006" y="360.8" width="3.4" height="3.4" fill="#fff" stroke="#000" stroke-width="0.9"/>
<rect x="388.50000000000006" y="369.5" width="3.4" height="3.4" fill="#fff" stroke="#000" stroke-width="0.9"/>
<line x1="390.20" y1="395.8" x2="390.20" y2="401.1" stroke="#000" stroke-width="1.3"/>
<text x="390.20" y="411.8" font-size="10.6" text-anchor="middle" font-weight="normal" font-style="italic" fill="#1a1a1a" font-family="Liberation Serif" >pspA</text>
<path d="M211.6,265 V395.8 H408" fill="none" stroke="#000" stroke-width="1.5"/>
<line x1="206.79999999999998" y1="395.80" x2="211.6" y2="395.80" stroke="#000" stroke-width="1.3"/>
<text x="204.79999999999998" y="399.80" font-size="11" text-anchor="end" font-weight="normal" font-style="normal" fill="#1a1a1a" font-family="Liberation Serif" >0</text>
<line x1="206.79999999999998" y1="366.65" x2="211.6" y2="366.65" stroke="#000" stroke-width="1.3"/>
<text x="204.79999999999998" y="370.65" font-size="11" text-anchor="end" font-weight="normal" font-style="normal" fill="#1a1a1a" font-family="Liberation Serif" >1</text>
<line x1="206.79999999999998" y1="337.50" x2="211.6" y2="337.50" stroke="#000" stroke-width="1.3"/>
<text x="204.79999999999998" y="341.50" font-size="11" text-anchor="end" font-weight="normal" font-style="normal" fill="#1a1a1a" font-family="Liberation Serif" >2</text>
<line x1="206.79999999999998" y1="308.35" x2="211.6" y2="308.35" stroke="#000" stroke-width="1.3"/>
<text x="204.79999999999998" y="312.35" font-size="11" text-anchor="end" font-weight="normal" font-style="normal" fill="#1a1a1a" font-family="Liberation Serif" >3</text>
<line x1="206.79999999999998" y1="279.20" x2="211.6" y2="279.20" stroke="#000" stroke-width="1.3"/>
<text x="204.79999999999998" y="283.20" font-size="11" text-anchor="end" font-weight="normal" font-style="normal" fill="#1a1a1a" font-family="Liberation Serif" >4</text>
<line x1="206.6" y1="367.3" x2="408" y2="367.3" stroke="#c92a2a" stroke-width="0.7" stroke-dasharray="2,1.6"/>
<text x="0" y="0" font-size="10.9" text-anchor="middle" font-weight="normal" font-style="normal" fill="#1a1a1a" font-family="Liberation Serif" transform="translate(195.3,330.7) rotate(-90)">Relative expressional level</text>
<text x="306.7" y="251.5" font-size="13" text-anchor="middle" font-weight="bold" font-style="italic" fill="#1a1a1a" font-family="Liberation Serif" >In vitro</text>
<text x="306.7" y="267.1" font-size="13" text-anchor="middle" font-weight="bold" fill="#1a1a1a" font-family="Liberation Serif">p<tspan font-style="italic">micN</tspan> vs WT</text>
<text x="407.3" y="9.9" font-size="13.2" text-anchor="start" font-weight="normal" font-style="normal" fill="#1a1a1a" font-family="Liberation Serif" >d</text>
<rect x="487.55" y="78.10" width="15.5" height="88.50" fill="#b0dcab" stroke="#000" stroke-width="1.7"/>
<rect x="514.35" y="72.80" width="15.5" height="93.80" fill="#b0dcab" stroke="#000" stroke-width="1.7"/>
<rect x="541.15" y="109.90" width="15.5" height="56.70" fill="#b0dcab" stroke="#000" stroke-width="1.7"/>
<rect x="567.95" y="98.50" width="15.5" height="68.10" fill="#c8dcf0" stroke="#000" stroke-width="1.7"/>
<rect x="594.75" y="113.50" width="15.5" height="53.10" fill="#c8dcf0" stroke="#000" stroke-width="1.7"/>
<rect x="621.55" y="120.70" width="15.5" height="45.90" fill="#f2dab8" stroke="#000" stroke-width="1.7"/>
<rect x="648.35" y="79.30" width="15.5" height="87.30" fill="#e4e5c4" stroke="#000" stroke-width="1.7"/>
<line x1="495.30" y1="38.4" x2="495.30" y2="117.8" stroke="#000" stroke-width="0.9"/>
<line x1="491.00" y1="38.4" x2="499.60" y2="38.4" stroke="#000" stroke-width="0.9"/>
<line x1="491.00" y1="117.8" x2="499.60" y2="117.8" stroke="#000" stroke-width="0.9"/>
<circle cx="495.3" cy="42.5" r="1.9" fill="#000"/>
<circle cx="495.3" cy="70.9" r="1.9" fill="#000"/>
<circle cx="495.3" cy="120.2" r="1.9" fill="#000"/>
<line x1="495.30" y1="166.6" x2="495.30" y2="171.9" stroke="#000" stroke-width="1.3"/>
<text x="495.30" y="183.79999999999998" font-size="10.8" text-anchor="middle" font-weight="normal" font-style="italic" fill="#1a1a1a" font-family="Liberation Serif" >eutK</text>
<line x1="522.10" y1="49.2" x2="522.10" y2="95" stroke="#000" stroke-width="0.9"/>
<line x1="517.80" y1="49.2" x2="526.40" y2="49.2" stroke="#000" stroke-width="0.9"/>
<line x1="517.80" y1="95" x2="526.40" y2="95" stroke="#000" stroke-width="0.9"/>
<rect x="520.3000000000001" y="54.2" width="3.6" height="3.6" fill="#000"/>
<rect x="520.3000000000001" y="59.5" width="3.6" height="3.6" fill="#000"/>
<rect x="520.3000000000001" y="96.8" width="3.6" height="3.6" fill="#000"/>
<line x1="522.10" y1="166.6" x2="522.10" y2="171.9" stroke="#000" stroke-width="1.3"/>
<text x="522.10" y="183.79999999999998" font-size="10.8" text-anchor="middle" font-weight="normal" font-style="italic" fill="#1a1a1a" font-family="Liberation Serif" >eutG</text>
<line x1="548.90" y1="102.2" x2="548.90" y2="116.1" stroke="#000" stroke-width="0.9"/>
<line x1="544.60" y1="102.2" x2="553.20" y2="102.2" stroke="#000" stroke-width="0.9"/>
<line x1="544.60" y1="116.1" x2="553.20" y2="116.1" stroke="#000" stroke-width="0.9"/>
<path d="M548.9,99.5 L551.1,103.3 L546.6999999999999,103.3 Z" fill="#000"/>
<path d="M541.4,109.6 L543.6,113.39999999999999 L539.1999999999999,113.39999999999999 Z" fill="#000"/>
<path d="M556.4,109.6 L558.6,113.39999999999999 L554.1999999999999,113.39999999999999 Z" fill="#000"/>
<line x1="548.90" y1="166.6" x2="548.90" y2="171.9" stroke="#000" stroke-width="1.3"/>
<text x="548.90" y="183.79999999999998" font-size="10.8" text-anchor="middle" font-weight="normal" font-style="italic" fill="#1a1a1a" font-family="Liberation Serif" >eutR</text>
<line x1="575.70" y1="94.5" x2="575.70" y2="101.7" stroke="#000" stroke-width="0.9"/>
<line x1="571.40" y1="94.5" x2="580.00" y2="94.5" stroke="#000" stroke-width="0.9"/>
<line x1="571.40" y1="101.7" x2="580.00" y2="101.7" stroke="#000" stroke-width="0.9"/>
<path d="M575.7,95.2 L577.9000000000001,91.4 L573.5,91.4 Z" fill="#000"/>
<path d="M568.2,99.7 L570.4000000000001,95.9 L566.0,95.9 Z" fill="#000"/>
<path d="M583.2,99.7 L585.4000000000001,95.9 L581.0,95.9 Z" fill="#000"/>
<line x1="575.70" y1="166.6" x2="575.70" y2="171.9" stroke="#000" stroke-width="1.3"/>
<text x="575.70" y="183.79999999999998" font-size="10.8" text-anchor="middle" font-weight="normal" font-style="italic" fill="#1a1a1a" font-family="Liberation Serif" >cobS</text>
<line x1="602.50" y1="99" x2="602.50" y2="126.2" stroke="#000" stroke-width="0.9"/>
<line x1="598.20" y1="99" x2="606.80" y2="99" stroke="#000" stroke-width="0.9"/>
<line x1="598.20" y1="126.2" x2="606.80" y2="126.2" stroke="#000" stroke-width="0.9"/>
<path d="M602.5,94.60000000000001 L604.6,96.9 L602.5,99.2 L600.4,96.9 Z" fill="#000"/>
<path d="M602.5,115.5 L604.6,117.8 L602.5,120.1 L600.4,117.8 Z" fill="#000"/>
<path d="M602.5,119.60000000000001 L604.6,121.9 L602.5,124.2 L600.4,121.9 Z" fill="#000"/>
<line x1="602.50" y1="166.6" x2="602.50" y2="171.9" stroke="#000" stroke-width="1.3"/>
<text x="602.50" y="183.79999999999998" font-size="10.8" text-anchor="middle" font-weight="normal" font-style="italic" fill="#1a1a1a" font-family="Liberation Serif" >pduC</text>
<line x1="629.30" y1="113" x2="629.30" y2="124" stroke="#000" stroke-width="0.9"/>
<line x1="625.00" y1="113" x2="633.60" y2="113" stroke="#000" stroke-width="0.9"/>
<line x1="625.00" y1="124" x2="633.60" y2="124" stroke="#000" stroke-width="0.9"/>
<circle cx="629.3" cy="110.1" r="1.9" fill="#fff" stroke="#000" stroke-width="1.0"/>
<circle cx="621.3" cy="125" r="1.9" fill="#fff" stroke="#000" stroke-width="1.0"/>
<circle cx="637.3" cy="122.1" r="1.9" fill="#fff" stroke="#000" stroke-width="1.0"/>
<line x1="629.30" y1="166.6" x2="629.30" y2="171.9" stroke="#000" stroke-width="1.3"/>
<text x="629.30" y="183.79999999999998" font-size="10.8" text-anchor="middle" font-weight="normal" font-style="italic" fill="#1a1a1a" font-family="Liberation Serif" >glpQ</text>
<line x1="656.10" y1="64.2" x2="656.10" y2="94" stroke="#000" stroke-width="0.9"/>
<line x1="651.80" y1="64.2" x2="660.40" y2="64.2" stroke="#000" stroke-width="0.9"/>
<line x1="651.80" y1="94" x2="660.40" y2="94" stroke="#000" stroke-width="0.9"/>
<rect x="654.4" y="63.89999999999999" width="3.4" height="3.4" fill="#fff" stroke="#000" stroke-width="0.9"/>
<rect x="654.4" y="73.3" width="3.4" height="3.4" fill="#fff" stroke="#000" stroke-width="0.9"/>
<rect x="654.4" y="92.5" width="3.4" height="3.4" fill="#fff" stroke="#000" stroke-width="0.9"/>
<line x1="656.10" y1="166.6" x2="656.10" y2="171.9" stroke="#000" stroke-width="1.3"/>
<text x="656.10" y="183.79999999999998" font-size="10.8" text-anchor="middle" font-weight="normal" font-style="italic" fill="#1a1a1a" font-family="Liberation Serif" >pspA</text>
<path d="M477.3,36.6 V166.6 H674.6" fill="none" stroke="#000" stroke-width="1.5"/>
<line x1="472.5" y1="167.10" x2="477.3" y2="167.10" stroke="#000" stroke-width="1.3"/>
<text x="470.5" y="171.10" font-size="10.6" text-anchor="end" font-weight="normal" font-style="normal" fill="#1a1a1a" font-family="Liberation Serif" >0.5</text>
<line x1="472.5" y1="123.60" x2="477.3" y2="123.60" stroke="#000" stroke-width="1.3"/>
<text x="470.5" y="127.60" font-size="10.6" text-anchor="end" font-weight="normal" font-style="normal" fill="#1a1a1a" font-family="Liberation Serif" >1.0</text>
<line x1="472.5" y1="80.10" x2="477.3" y2="80.10" stroke="#000" stroke-width="1.3"/>
<text x="470.5" y="84.10" font-size="10.6" text-anchor="end" font-weight="normal" font-style="normal" fill="#1a1a1a" font-family="Liberation Serif" >1.5</text>
<line x1="472.5" y1="36.60" x2="477.3" y2="36.60" stroke="#000" stroke-width="1.3"/>
<text x="470.5" y="40.60" font-size="10.6" text-anchor="end" font-weight="normal" font-style="normal" fill="#1a1a1a" font-family="Liberation Serif" >2.0</text>
<line x1="472.3" y1="123.6" x2="674.6" y2="123.6" stroke="#d98a8a" stroke-width="0.8" stroke-dasharray="1.6,1.6"/>
<text x="0" y="0" font-size="10.9" text-anchor="middle" font-weight="normal" font-style="normal" fill="#1a1a1a" font-family="Liberation Serif" transform="translate(449.2,101.7) rotate(-90)">Relative expressional level</text>
<text x="578" y="14.9" font-size="13" text-anchor="middle" font-weight="bold" font-style="italic" fill="#1a1a1a" font-family="Liberation Serif" >In vitro</text>
<text x="578" y="30.5" font-size="13" text-anchor="middle" font-weight="bold" fill="#1a1a1a" font-family="Liberation Serif">WT vs Δ<tspan font-style="italic">micN</tspan></text>
<text x="407.3" y="241.7" font-size="13.5" text-anchor="start" font-weight="normal" font-style="normal" fill="#1a1a1a" font-family="Liberation Serif" >e</text>
<rect x="487.55" y="302.80" width="15.5" height="93.40" fill="#b0dcab" stroke="#000" stroke-width="1.7"/>
<rect x="514.35" y="306.50" width="15.5" height="89.70" fill="#b0dcab" stroke="#000" stroke-width="1.7"/>
<rect x="541.15" y="312.30" width="15.5" height="83.90" fill="#b0dcab" stroke="#000" stroke-width="1.7"/>
<rect x="567.95" y="316.20" width="15.5" height="80.00" fill="#c8dcf0" stroke="#000" stroke-width="1.7"/>
<rect x="594.75" y="299.80" width="15.5" height="96.40" fill="#c8dcf0" stroke="#000" stroke-width="1.7"/>
<rect x="621.55" y="311.90" width="15.5" height="84.30" fill="#f2dab8" stroke="#000" stroke-width="1.7"/>
<rect x="648.35" y="328.70" width="15.5" height="67.50" fill="#e4e5c4" stroke="#000" stroke-width="1.7"/>
<line x1="495.30" y1="288.5" x2="495.30" y2="315.5" stroke="#000" stroke-width="0.9"/>
<line x1="491.00" y1="288.5" x2="499.60" y2="288.5" stroke="#000" stroke-width="0.9"/>
<line x1="491.00" y1="315.5" x2="499.60" y2="315.5" stroke="#000" stroke-width="0.9"/>
<circle cx="495.3" cy="288.5" r="1.9" fill="#000"/>
<circle cx="495.3" cy="303.6" r="1.9" fill="#000"/>
<circle cx="495.3" cy="315.5" r="1.9" fill="#000"/>
<line x1="495.30" y1="396.2" x2="495.30" y2="401.5" stroke="#000" stroke-width="1.3"/>
<text x="495.30" y="411.7" font-size="10.8" text-anchor="middle" font-weight="normal" font-style="italic" fill="#1a1a1a" font-family="Liberation Serif" >eutK</text>
<line x1="522.10" y1="284.6" x2="522.10" y2="328.4" stroke="#000" stroke-width="0.9"/>
<line x1="517.80" y1="284.6" x2="526.40" y2="284.6" stroke="#000" stroke-width="0.9"/>
<line x1="517.80" y1="328.4" x2="526.40" y2="328.4" stroke="#000" stroke-width="0.9"/>
<rect x="520.3000000000001" y="285.0" width="3.6" height="3.6" fill="#000"/>
<rect x="520.3000000000001" y="299.3" width="3.6" height="3.6" fill="#000"/>
<rect x="520.3000000000001" y="326.59999999999997" width="3.6" height="3.6" fill="#000"/>
<line x1="522.10" y1="396.2" x2="522.10" y2="401.5" stroke="#000" stroke-width="1.3"/>
<text x="522.10" y="411.7" font-size="10.8" text-anchor="middle" font-weight="normal" font-style="italic" fill="#1a1a1a" font-family="Liberation Serif" >eutG</text>
<line x1="548.90" y1="306.2" x2="548.90" y2="317.4" stroke="#000" stroke-width="0.9"/>
<line x1="544.60" y1="306.2" x2="553.20" y2="306.2" stroke="#000" stroke-width="0.9"/>
<line x1="544.60" y1="317.4" x2="553.20" y2="317.4" stroke="#000" stroke-width="0.9"/>
<path d="M542.4,306.0 L544.6,309.8 L540.1999999999999,309.8 Z" fill="#000"/>
<path d="M548.9,316.0 L551.1,319.8 L546.6999999999999,319.8 Z" fill="#000"/>
<path d="M555.9,306.0 L558.1,309.8 L553.6999999999999,309.8 Z" fill="#000"/>
<line x1="548.90" y1="396.2" x2="548.90" y2="401.5" stroke="#000" stroke-width="1.3"/>
<text x="548.90" y="411.7" font-size="10.8" text-anchor="middle" font-weight="normal" font-style="italic" fill="#1a1a1a" font-family="Liberation Serif" >eutR</text>
<line x1="575.70" y1="301.7" x2="575.70" y2="330" stroke="#000" stroke-width="0.9"/>
<line x1="571.40" y1="301.7" x2="580.00" y2="301.7" stroke="#000" stroke-width="0.9"/>
<line x1="571.40" y1="330" x2="580.00" y2="330" stroke="#000" stroke-width="0.9"/>
<path d="M575.7,306.4 L577.9000000000001,302.59999999999997 L573.5,302.59999999999997 Z" fill="#000"/>
<path d="M575.7,311.59999999999997 L577.9000000000001,307.79999999999995 L573.5,307.79999999999995 Z" fill="#000"/>
<path d="M575.7,332.8 L577.9000000000001,329.0 L573.5,329.0 Z" fill="#000"/>
<line x1="575.70" y1="396.2" x2="575.70" y2="401.5" stroke="#000" stroke-width="1.3"/>
<text x="575.70" y="411.7" font-size="10.8" text-anchor="middle" font-weight="normal" font-style="italic" fill="#1a1a1a" font-family="Liberation Serif" >cobS</text>
<line x1="602.50" y1="288.7" x2="602.50" y2="311" stroke="#000" stroke-width="0.9"/>
<line x1="598.20" y1="288.7" x2="606.80" y2="288.7" stroke="#000" stroke-width="0.9"/>
<line x1="598.20" y1="311" x2="606.80" y2="311" stroke="#000" stroke-width="0.9"/>
<path d="M595.6,291.7 L597.7,294 L595.6,296.3 L593.5,294 Z" fill="#000"/>
<path d="M609.8,290.4 L611.9,292.7 L609.8,295.0 L607.6999999999999,292.7 Z" fill="#000"/>
<path d="M602.5,309.0 L604.6,311.3 L602.5,313.6 L600.4,311.3 Z" fill="#000"/>
<line x1="602.50" y1="396.2" x2="602.50" y2="401.5" stroke="#000" stroke-width="1.3"/>
<text x="602.50" y="411.7" font-size="10.8" text-anchor="middle" font-weight="normal" font-style="italic" fill="#1a1a1a" font-family="Liberation Serif" >pduC</text>
<line x1="629.30" y1="304.2" x2="629.30" y2="318" stroke="#000" stroke-width="0.9"/>
<line x1="625.00" y1="304.2" x2="633.60" y2="304.2" stroke="#000" stroke-width="0.9"/>
<line x1="625.00" y1="318" x2="633.60" y2="318" stroke="#000" stroke-width="0.9"/>
<circle cx="629.3" cy="302.3" r="1.9" fill="#fff" stroke="#000" stroke-width="1.0"/>
<circle cx="622.5999999999999" cy="316.2" r="1.9" fill="#fff" stroke="#000" stroke-width="1.0"/>
<circle cx="636.5999999999999" cy="314.8" r="1.9" fill="#fff" stroke="#000" stroke-width="1.0"/>
<line x1="629.30" y1="396.2" x2="629.30" y2="401.5" stroke="#000" stroke-width="1.3"/>
<text x="629.30" y="411.7" font-size="10.8" text-anchor="middle" font-weight="normal" font-style="italic" fill="#1a1a1a" font-family="Liberation Serif" >glpQ</text>
<line x1="656.10" y1="323.8" x2="656.10" y2="332.5" stroke="#000" stroke-width="0.9"/>
<line x1="651.80" y1="323.8" x2="660.40" y2="323.8" stroke="#000" stroke-width="0.9"/>
<line x1="651.80" y1="332.5" x2="660.40" y2="332.5" stroke="#000" stroke-width="0.9"/>
<rect x="654.4" y="324.5" width="3.4" height="3.4" fill="#fff" stroke="#000" stroke-width="0.9"/>
<rect x="661.6999999999999" y="322.7" width="3.4" height="3.4" fill="#fff" stroke="#000" stroke-width="0.9"/>
<rect x="654.4" y="331.8" width="3.4" height="3.4" fill="#fff" stroke="#000" stroke-width="0.9"/>
<line x1="656.10" y1="396.2" x2="656.10" y2="401.5" stroke="#000" stroke-width="1.3"/>
<text x="656.10" y="411.7" font-size="10.8" text-anchor="middle" font-weight="normal" font-style="italic" fill="#1a1a1a" font-family="Liberation Serif" >pspA</text>
<path d="M477.5,265 V396.2 H674.5" fill="none" stroke="#000" stroke-width="1.5"/>
<line x1="472.7" y1="396.20" x2="477.5" y2="396.20" stroke="#000" stroke-width="1.3"/>
<text x="470.7" y="400.20" font-size="10.6" text-anchor="end" font-weight="normal" font-style="normal" fill="#1a1a1a" font-family="Liberation Serif" >0.5</text>
<line x1="472.7" y1="352.50" x2="477.5" y2="352.50" stroke="#000" stroke-width="1.3"/>
<text x="470.7" y="356.50" font-size="10.6" text-anchor="end" font-weight="normal" font-style="normal" fill="#1a1a1a" font-family="Liberation Serif" >1.0</text>
<line x1="472.7" y1="308.80" x2="477.5" y2="308.80" stroke="#000" stroke-width="1.3"/>
<text x="470.7" y="312.80" font-size="10.6" text-anchor="end" font-weight="normal" font-style="normal" fill="#1a1a1a" font-family="Liberation Serif" >1.5</text>
<line x1="472.7" y1="265.10" x2="477.5" y2="265.10" stroke="#000" stroke-width="1.3"/>
<text x="470.7" y="269.10" font-size="10.6" text-anchor="end" font-weight="normal" font-style="normal" fill="#1a1a1a" font-family="Liberation Serif" >2.0</text>
<line x1="472.5" y1="352.8" x2="674.5" y2="352.8" stroke="#d98a8a" stroke-width="0.8" stroke-dasharray="1.6,1.6"/>
<text x="0" y="0" font-size="10.9" text-anchor="middle" font-weight="normal" font-style="normal" fill="#1a1a1a" font-family="Liberation Serif" transform="translate(449.2,331) rotate(-90)">Relative expressional level</text>
<text x="578" y="249.1" font-size="13" text-anchor="middle" font-weight="bold" font-style="italic" fill="#1a1a1a" font-family="Liberation Serif" >In vivo</text>
<text x="578" y="264.7" font-size="13" text-anchor="middle" font-weight="bold" fill="#1a1a1a" font-family="Liberation Serif">WT vs Δ<tspan font-style="italic">micN</tspan></text>
</svg>
</body></html>
